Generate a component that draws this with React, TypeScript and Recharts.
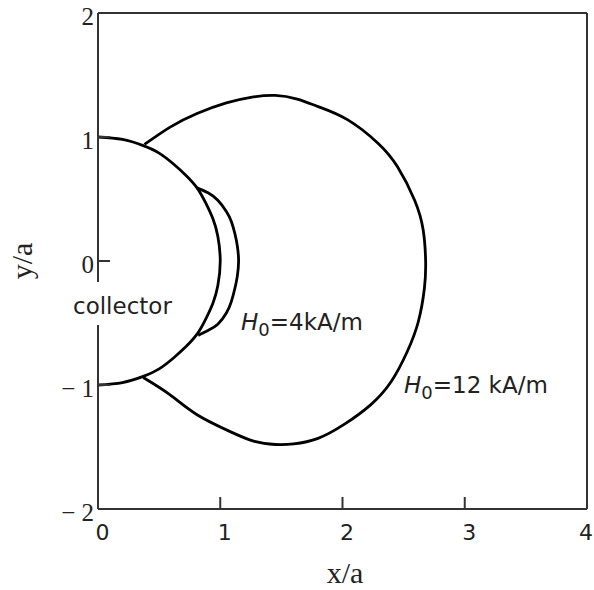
import React from 'react';
import { LineChart, Line, XAxis, YAxis } from 'recharts';

type Pt = { x: number; y: number };

// collector surface (unit circle, right half)
const collector: Pt[] = [
  { x: 0, y: 1 }, { x: 0.2, y: 0.98 }, { x: 0.37, y: 0.93 }, { x: 0.5, y: 0.87 },
  { x: 0.62, y: 0.78 }, { x: 0.72, y: 0.69 }, { x: 0.81, y: 0.59 }, { x: 0.88, y: 0.47 },
  { x: 0.94, y: 0.34 }, { x: 0.98, y: 0.2 }, { x: 1.0, y: 0 }, { x: 0.98, y: -0.2 },
  { x: 0.94, y: -0.34 }, { x: 0.88, y: -0.47 }, { x: 0.81, y: -0.59 }, { x: 0.72, y: -0.69 },
  { x: 0.62, y: -0.78 }, { x: 0.5, y: -0.87 }, { x: 0.37, y: -0.93 }, { x: 0.2, y: -0.98 },
  { x: 0, y: -1 },
];

// capture boundary, H0 = 4 kA/m
const h4: Pt[] = [
  { x: 0.81, y: 0.59 }, { x: 0.9, y: 0.55 }, { x: 0.98, y: 0.49 }, { x: 1.05, y: 0.4 },
  { x: 1.09, y: 0.32 }, { x: 1.12, y: 0.22 }, { x: 1.14, y: 0.12 }, { x: 1.15, y: 0 },
  { x: 1.14, y: -0.12 }, { x: 1.12, y: -0.22 }, { x: 1.09, y: -0.33 }, { x: 1.05, y: -0.42 },
  { x: 0.98, y: -0.51 }, { x: 0.9, y: -0.56 }, { x: 0.82, y: -0.6 },
];

// capture boundary, H0 = 12 kA/m
const h12: Pt[] = [
  { x: 0.38, y: 0.94 }, { x: 0.59, y: 1.08 }, { x: 0.81, y: 1.19 }, { x: 1.05, y: 1.275 },
  { x: 1.25, y: 1.32 }, { x: 1.45, y: 1.335 }, { x: 1.63, y: 1.305 }, { x: 1.8, y: 1.245 },
  { x: 2.04, y: 1.14 }, { x: 2.29, y: 0.95 }, { x: 2.45, y: 0.76 }, { x: 2.59, y: 0.49 },
  { x: 2.66, y: 0.25 }, { x: 2.68, y: 0 }, { x: 2.67, y: -0.22 }, { x: 2.62, y: -0.49 },
  { x: 2.53, y: -0.73 }, { x: 2.4, y: -0.97 }, { x: 2.23, y: -1.16 }, { x: 2.01, y: -1.32 },
  { x: 1.8, y: -1.43 }, { x: 1.6, y: -1.475 }, { x: 1.45, y: -1.48 }, { x: 1.28, y: -1.455 },
  { x: 1.09, y: -1.38 }, { x: 0.81, y: -1.24 }, { x: 0.59, y: -1.08 }, { x: 0.37, y: -0.94 },
];

const xTicks = [0, 1, 2, 3, 4];
const yTicks = [-2, -1, 0, 1, 2];
const yTickText = ['\u2212 2', '\u2212 1', '0', '1', '2'];

const AXIS = '#333';
const TICK = 12;
const SANS = '"DejaVu Sans", sans-serif';
const SERIF = '"Liberation Serif", "Times New Roman", serif';

const inner = (v: number, lo: number, hi: number) => v > lo && v < hi;

const BottomTick = ({ x, y, payload }: any) => {
  // last label sits against the right edge of the page
  const last = payload.value === xTicks[xTicks.length - 1];
  return (
    <g>
      {inner(payload.value, 0, 4) && <line x1={x} y1={y} x2={x} y2={y - TICK} stroke={AXIS} strokeWidth={2} />}
      <text x={last ? 593 : x + 4.5} y={y + 31} textAnchor={last ? 'end' : 'middle'} fontFamily={SANS} fontSize={22} fill="#222">
        {payload.value}
      </text>
    </g>
  );
};

const TopTick = ({ x, y, payload }: any) =>
  inner(payload.value, 0, 4) ? <line x1={x} y1={y} x2={x} y2={y + TICK} stroke={AXIS} strokeWidth={2} /> : <g />;

const LeftTick = ({ x, y, payload }: any) => {
  const i = yTicks.indexOf(payload.value);
  return (
    <g>
      {inner(payload.value, -2, 2) && <line x1={x} y1={y} x2={x + TICK} y2={y} stroke={AXIS} strokeWidth={2} />}
      <text x={x - 4} y={y + 12} textAnchor="end" fontFamily={SERIF} fontSize={25} fill="#222">
        {yTickText[i]}
      </text>
    </g>
  );
};

const RightTick = ({ x, y, payload }: any) =>
  inner(payload.value, -2, 2) ? <line x1={x} y1={y} x2={x - TICK} y2={y} stroke={AXIS} strokeWidth={2} /> : <g />;

export default function App() {
  const curve = { type: 'natural' as const, stroke: '#000', strokeWidth: 2.8, dot: false, isAnimationActive: false };
  const axisLine = { stroke: AXIS, strokeWidth: 2 };
  return (
    <div style={{ position: 'absolute', left: 0, top: 0, width: 594, height: 590, background: '#fff' }}>
      <LineChart width={594} height={590} margin={{ top: 12, right: 6, bottom: 80, left: 97 }}>
        <XAxis xAxisId="b" type="number" dataKey="x" domain={[0, 4]} ticks={xTicks} interval={0}
          height={1} tickSize={0} tickMargin={0} tick={<BottomTick />} axisLine={axisLine} />
        <XAxis xAxisId="t" orientation="top" type="number" dataKey="x" domain={[0, 4]} ticks={xTicks} interval={0}
          height={1} tickSize={0} tickMargin={0} tick={<TopTick />} axisLine={axisLine} />
        <YAxis yAxisId="l" type="number" dataKey="y" domain={[-2, 2]} ticks={yTicks} interval={0}
          width={1} tickSize={0} tickMargin={0} tick={<LeftTick />} axisLine={axisLine} />
        <YAxis yAxisId="r" orientation="right" type="number" dataKey="y" domain={[-2, 2]} ticks={yTicks} interval={0}
          width={1} tickSize={0} tickMargin={0} tick={<RightTick />} axisLine={axisLine} />
        <Line xAxisId="b" yAxisId="l" data={collector} dataKey="y" {...curve} />
        <Line xAxisId="b" yAxisId="l" data={h4} dataKey="y" {...curve} />
        <Line xAxisId="b" yAxisId="l" data={h12} dataKey="y" {...curve} />
      </LineChart>
      <svg width={594} height={590} style={{ position: 'absolute', left: 0, top: 0, pointerEvents: 'none' }}>
        <rect x={72} y={282} width={104} height={43} fill="#fff" />
        <text x={73} y={314} fontFamily={SANS} fontSize={23} fill="#222">collector</text>
        <text x={241} y={330} fontFamily={SANS} fontSize={23} fill="#222">
          <tspan fontStyle="italic">H</tspan>
          <tspan dy={6} fontSize={18}>0</tspan>
          <tspan dy={-6}>=4kA/m</tspan>
        </text>
        <text x={404} y={393} fontFamily={SANS} fontSize={23} fill="#222">
          <tspan fontStyle="italic">H</tspan>
          <tspan dy={6} fontSize={18}>0</tspan>
          <tspan dy={-6}>=12 kA/m</tspan>
        </text>
        <text x={345} y={583} textAnchor="middle" fontFamily={SERIF} fontSize={30} fill="#222">x/a</text>
        <text x={32} y={261} transform="rotate(-90 32 261)" textAnchor="middle" fontFamily={SERIF} fontSize={30} fill="#222">y/a</text>
      </svg>
    </div>
  );
}
